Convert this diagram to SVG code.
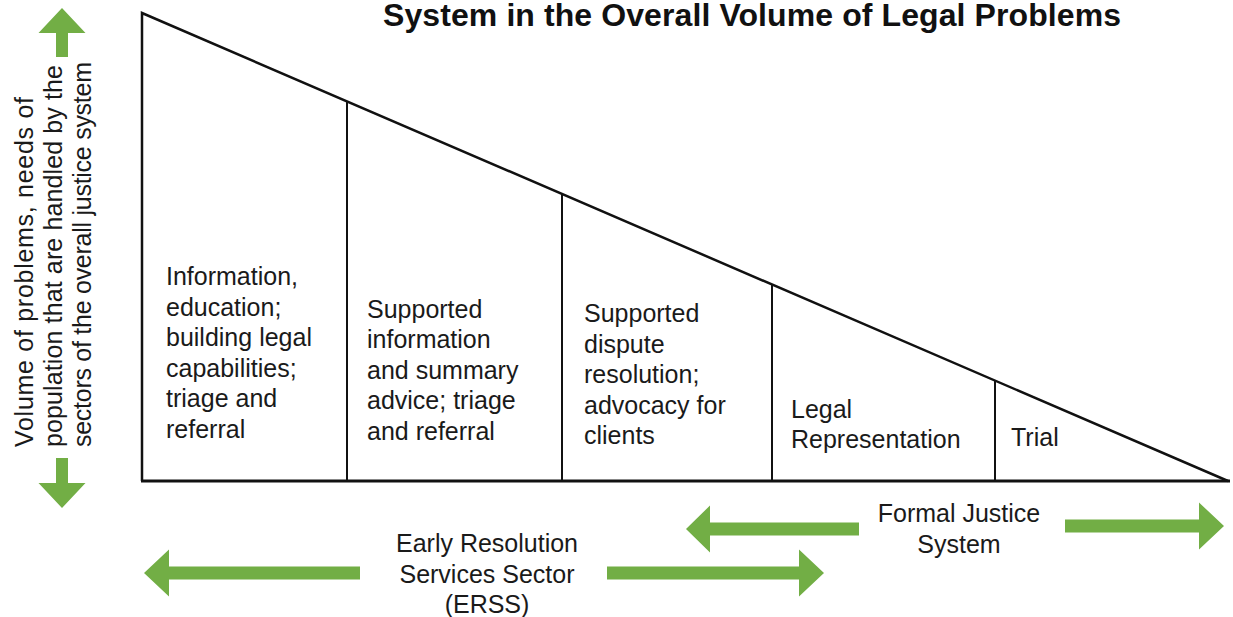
<svg xmlns="http://www.w3.org/2000/svg" width="1233" height="617" viewBox="0 0 1233 617">
<style>
.t{font-family:"Liberation Sans",Arial,sans-serif;font-size:25px;fill:#1a1a1a}
.title{font-family:"Liberation Sans",Arial,sans-serif;font-size:32px;font-weight:bold;fill:#111}
.ax{font-family:"Liberation Sans",Arial,sans-serif;font-size:25px;fill:#1a1a1a}
.ln{stroke:#111;fill:none}
.arr{fill:#72ae45}
</style>
<rect width="1233" height="617" fill="#fff"/>
<g id="title"><text class="title" x="383" y="26" textLength="738">System in the Overall Volume of Legal Problems</text></g>
<g id="triangle">
<polyline class="ln" stroke-width="2.5" points="1228,481 142,13 142,481"/>
<line class="ln" stroke-width="3" x1="141" y1="481" x2="1230" y2="481"/>
</g>
<g id="dividers">
<line class="ln" stroke-width="2" x1="347" y1="101" x2="347" y2="481"/>
<line class="ln" stroke-width="2" x1="562" y1="194" x2="562" y2="481"/>
<line class="ln" stroke-width="2" x1="772" y1="285" x2="772" y2="481"/>
<line class="ln" stroke-width="2" x1="995" y1="381" x2="995" y2="481"/>
</g>
<g id="sec1"><text class="t"><tspan x="166" y="285">Information,</tspan><tspan x="166" y="315.5">education;</tspan><tspan x="166" y="346">building legal</tspan><tspan x="166" y="376.5">capabilities;</tspan><tspan x="166" y="407">triage and</tspan><tspan x="166" y="437.5">referral</tspan></text></g>
<g id="sec2"><text class="t"><tspan x="367" y="317.5">Supported</tspan><tspan x="367" y="348">information</tspan><tspan x="367" y="378.5">and summary</tspan><tspan x="367" y="409">advice; triage</tspan><tspan x="367" y="439.5">and referral</tspan></text></g>
<g id="sec3"><text class="t"><tspan x="584" y="322">Supported</tspan><tspan x="584" y="352.5">dispute</tspan><tspan x="584" y="383">resolution;</tspan><tspan x="584" y="413.5">advocacy for</tspan><tspan x="584" y="444">clients</tspan></text></g>
<g id="sec4"><text class="t"><tspan x="791" y="418">Legal</tspan><tspan x="791" y="448">Representation</tspan></text></g>
<g id="sec5"><text class="t" x="1011" y="446">Trial</text></g>
<g id="axis-label">
<text class="ax" transform="translate(33,447) rotate(-90)" textLength="350">Volume of problems, needs of</text>
<text class="ax" transform="translate(62,447) rotate(-90)" textLength="382">population that are handled by the</text>
<text class="ax" transform="translate(91,447) rotate(-90)" textLength="385">sectors of the overall justice system</text>
</g>
<g id="erss"><text class="t" text-anchor="middle"><tspan x="487" y="552">Early Resolution</tspan><tspan x="487" y="582.5">Services Sector</tspan><tspan x="487" y="613">(ERSS)</tspan></text></g>
<g id="fjs"><text class="t" text-anchor="middle"><tspan x="959" y="522">Formal Justice</tspan><tspan x="959" y="552.5">System</tspan></text></g>
<g id="connectors">
<polygon class="arr" points="62,8 85.5,33 68,33 68,57 56,57 56,33 38.5,33"/>
<polygon class="arr" points="62,508 85.5,483 68,483 68,458 56,458 56,483 38.5,483"/>
<polygon class="arr" points="144,573 169,549.5 169,566.5 360,566.5 360,579.5 169,579.5 169,596.5"/>
<polygon class="arr" points="607,566.5 799,566.5 799,549.5 824,573 799,596.5 799,579.5 607,579.5"/>
<polygon class="arr" points="686,529 710,505.5 710,522.5 859,522.5 859,535.5 710,535.5 710,552.5"/>
<polygon class="arr" points="1065,519.5 1199,519.5 1199,502.5 1224,526 1199,549.5 1199,532.5 1065,532.5"/>
</g>
</svg>
